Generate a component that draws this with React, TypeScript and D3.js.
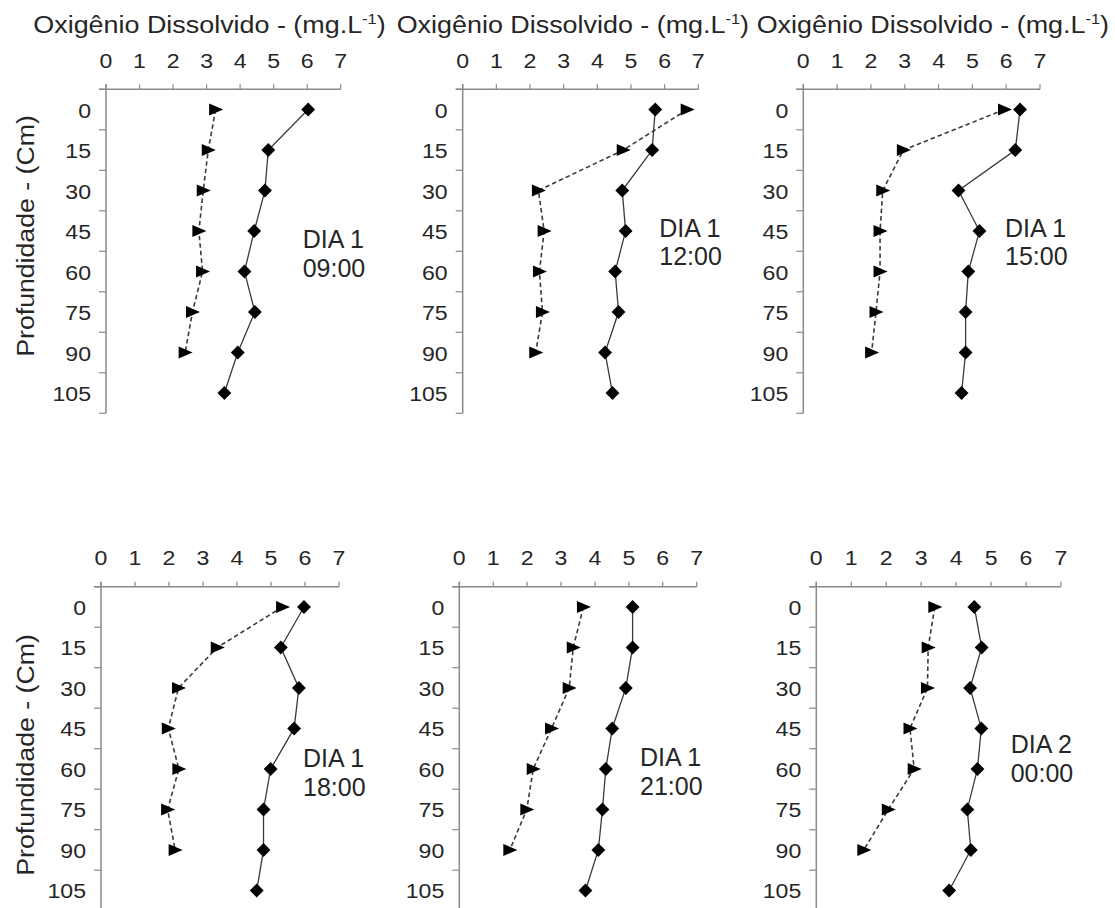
import { line, scaleLinear, scalePoint, range } from "d3"

const depths = ["0", "15", "30", "45", "60", "75", "90", "105"]
const xTicks = [0, 1, 2, 3, 4, 5, 6, 7]

const dayLabels = ["DIA 1", "DIA 1", "DIA 1", "DIA 1", "DIA 1", "DIA 2"]
const hourLabels = ["09:00", "12:00", "15:00", "18:00", "21:00", "00:00"]

// solid line with diamonds (8 depths), dashed line with triangles (7 depths)
const solid0900 = [6.03, 4.84, 4.74, 4.42, 4.13, 4.44, 3.93, 3.53]
const dashed0900 = [3.27, 3.05, 2.9, 2.77, 2.88, 2.58, 2.36]
const solid1200 = [5.72, 5.63, 4.74, 4.84, 4.53, 4.63, 4.23, 4.45]
const dashed1200 = [6.67, 4.77, 2.25, 2.42, 2.28, 2.37, 2.17]
const solid1500 = [6.41, 6.27, 4.59, 5.21, 4.88, 4.8, 4.8, 4.68]
const dashed1500 = [5.95, 2.96, 2.35, 2.27, 2.27, 2.15, 2.02]
const solid1800 = [5.97, 5.29, 5.82, 5.68, 4.99, 4.78, 4.78, 4.58]
const dashed1800 = [5.34, 3.42, 2.28, 1.98, 2.29, 1.96, 2.18]
const solid2100 = [5.11, 5.11, 4.91, 4.51, 4.32, 4.22, 4.1, 3.72]
const dashed2100 = [3.66, 3.36, 3.24, 2.72, 2.18, 1.99, 1.49]
const solid0000 = [4.52, 4.73, 4.4, 4.72, 4.61, 4.32, 4.42, 3.8]
const dashed0000 = [3.39, 3.2, 3.18, 2.68, 2.8, 2.06, 1.36]

const solids = [solid0900, solid1200, solid1500, solid1800, solid2100, solid0000]
const dasheds = [dashed0900, dashed1200, dashed1500, dashed1800, dashed2100, dashed0000]

// panel placement
const panels = [
    { x0: 106, x1: 340.7, top: 89.3, titleX: 33.3, dayX: 302.7, dayY: 248.3, yLabel: true, labelY: 236 },
    { x0: 462.7, x1: 698.3, top: 89.3, titleX: 396.7, dayX: 659.3, dayY: 236.7 },
    { x0: 803.3, x1: 1040, top: 89.3, titleX: 756.7, dayX: 1005, dayY: 236.7 },
    { x0: 101, x1: 339, top: 586.7, dayX: 303, dayY: 767.3, yLabel: true, labelY: 755 },
    { x0: 459.3, x1: 696.7, top: 586.7, dayX: 640, dayY: 766 },
    { x0: 816.3, x1: 1061, top: 586.7, dayX: 1010.7, dayY: 753.3 },
]

const band = 40.5
const font = "'Liberation Sans', Arial, sans-serif"
const ink = "#262626"
const axisColor = "#8a8a8a"

const Panel = ({ p, i }) => {
    const x = scaleLinear().domain([0, 7]).range([p.x0, p.x1])
    const y = scalePoint().domain(depths).range([p.top, p.top + band * depths.length]).padding(0.5)
    const bottom = p.top + band * depths.length
    const solid = solids[i].map((v, k) => [v, depths[k]])
    const dashed = dasheds[i].map((v, k) => [v, depths[k]])
    const path = line().x(d => x(d[0])).y(d => y(d[1]))

    return (
        <g>
            {p.titleX !== undefined && (
                <text transform={`translate(${p.titleX},33) scale(1.17,1)`} fontSize={23} fill={ink} fontFamily={font}>
                    Oxigênio Dissolvido - (mg.L<tspan fontSize={14} dy={-9}>-1</tspan><tspan dy={9}>)</tspan>
                </text>
            )}
            {p.yLabel && (
                <text transform={`translate(34,${p.labelY}) rotate(-90) scale(1.16,1)`} textAnchor="middle" fontSize={23} fill={ink} fontFamily={font}>
                    Profundidade - (Cm)
                </text>
            )}

            {/* top value axis */}
            <line x1={p.x0 - 7} x2={x(7)} y1={p.top} y2={p.top} stroke={axisColor} strokeWidth={1.5} />
            {xTicks.map(t => (
                <g key={t}>
                    <line x1={x(t)} x2={x(t)} y1={p.top - 5} y2={p.top} stroke={axisColor} strokeWidth={1.2} />
                    <text transform={`translate(${x(t)},${p.top - 21.5}) scale(1.1,1)`} textAnchor="middle" fontSize={21} fill={ink} fontFamily={font}>{t}</text>
                </g>
            ))}

            {/* depth axis */}
            <line x1={p.x0} x2={p.x0} y1={p.top - 5} y2={bottom} stroke={axisColor} strokeWidth={1.5} />
            {range(depths.length + 1).map(k => (
                <line key={k} x1={p.x0 - 7} x2={p.x0} y1={p.top + k * band} y2={p.top + k * band} stroke={axisColor} strokeWidth={1.2} />
            ))}
            {depths.map(d => (
                <text key={d} transform={`translate(${p.x0 - 15},${y(d) + 8}) scale(1.1,1)`} textAnchor="end" fontSize={21} fill={ink} fontFamily={font}>{d}</text>
            ))}

            <path d={path(dashed)} fill="none" stroke="#3a3a3a" strokeWidth={1.6} strokeDasharray="4.5,3" />
            <path d={path(solid)} fill="none" stroke="#3a3a3a" strokeWidth={1.3} />

            {dashed.map((d, k) => (
                <path key={k} transform={`translate(${x(d[0])},${y(d[1])})`} d="M-6.5,-6L7.5,0L-6.5,6Z" fill="#000" />
            ))}
            {solid.map((d, k) => (
                <rect key={k} transform={`translate(${x(d[0])},${y(d[1])}) rotate(45)`} x={-4.9} y={-4.9} width={9.8} height={9.8} fill="#000" />
            ))}

            <text x={p.dayX} y={p.dayY} fontSize={25} fill={ink} fontFamily={font}>{dayLabels[i]}</text>
            <text x={p.dayX} y={p.dayY + 28.5} fontSize={25} fill={ink} fontFamily={font}>{hourLabels[i]}</text>
        </g>
    )
}

const App = () => (
    <svg width={1115} height={908} style={{ position: "absolute", left: 0, top: 0, background: "#fff" }}>
        <rect width={1115} height={908} fill="#fff" />
        {panels.map((p, i) => <Panel key={i} p={p} i={i} />)}
    </svg>
)

export default App
